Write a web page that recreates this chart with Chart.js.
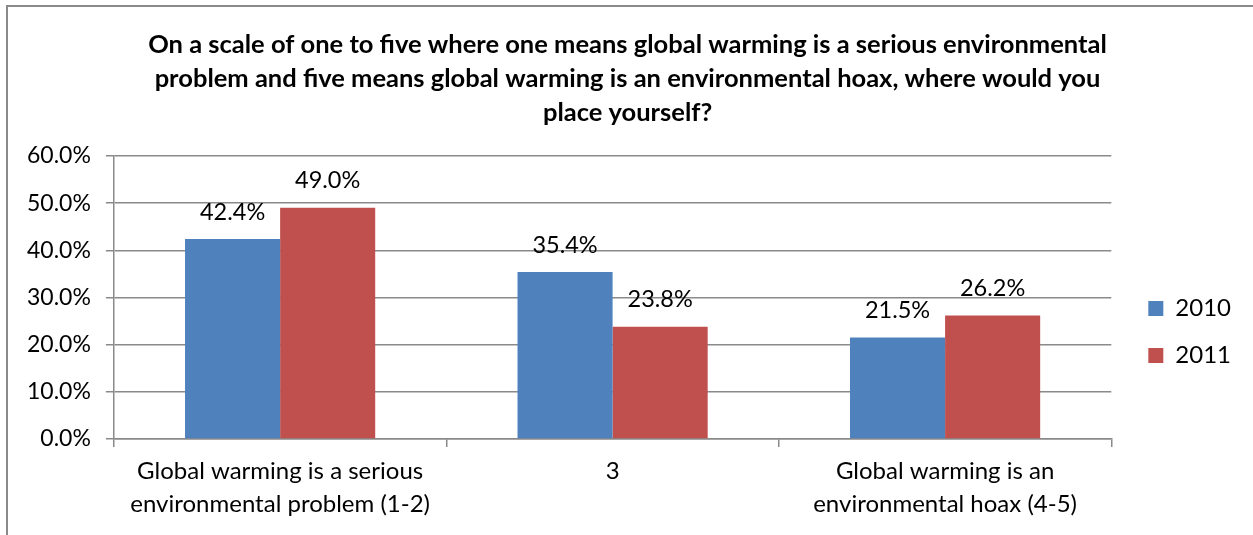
<!DOCTYPE html>
<html>
<head>
<meta charset="utf-8">
<script src="https://cdn.jsdelivr.net/npm/chart.js@4.4.1/dist/chart.umd.min.js"></script>
<style>
  html, body { margin: 0; padding: 0; background: #fff; overflow: hidden; }
  #frame {
    position: absolute; left: 6px; top: 5px; width: 1270px; height: 560px;
    border-top: 2px solid #8a8a8a; border-left: 2px solid #8a8a8a;
  }
  #wrap { position: absolute; left: 8px; top: 7px; width: 1245px; height: 528px; }
</style>
</head>
<body>
<div id="frame"></div>
<div id="wrap"><canvas id="surveyChart"></canvas></div>
<script>
const categories = [
    ['Global warming is a serious', 'environmental problem (1-2)'],
    '3',
    ['Global warming is an', 'environmental hoax (4-5)']
];
const values2010 = [42.4, 35.4, 21.5];
const values2011 = [49.0, 23.8, 26.2];
const titleLines = [
    'On a scale of one to five where one means global warming is a serious environmental',
    'problem and five means global warming is an environmental hoax, where would you',
    'place yourself?'
];

const FONT = "Lato, 'Open Sans', sans-serif";
const GRID = '#8a8a8a';

// value labels above each bar
const barLabels = {
    id: 'barLabels',
    afterDatasetsDraw(chart) {
        const { ctx } = chart;
        ctx.save();
        ctx.font = '23.5px ' + FONT;
        ctx.fillStyle = '#000';
        ctx.textAlign = 'center';
        ctx.textBaseline = 'middle';
        chart.data.datasets.forEach((ds, i) => {
            chart.getDatasetMeta(i).data.forEach((bar, j) => {
                ctx.fillText(ds.data[j].toFixed(1) + '%', bar.x, bar.y - 27);
            });
        });
        ctx.restore();
    }
};

// move legend lower/right and recentre the title on the whole canvas
const layoutShift = {
    id: 'layoutShift',
    afterLayout(chart) {
        chart.legend.top += 62;
        chart.legend.bottom += 62;
        chart.legend.left += 14;
        chart.legend.right += 14;
        chart.titleBlock.left += 8;
        chart.titleBlock.right += 8;
    }
};

const ctx = document.getElementById('surveyChart').getContext('2d');

new Chart(ctx, {
    type: 'bar',
    data: {
        labels: categories,
        datasets: [{
            label: '2010',
            data: values2010,
            backgroundColor: '#4f81bd'
        }, {
            label: '2011',
            data: values2011,
            backgroundColor: '#c0504d'
        }]
    },
    options: {
        responsive: true,
        maintainAspectRatio: false,
        animation: false,
        barPercentage: 1,
        categoryPercentage: 0.572,
        layout: {
            padding: { left: 4, right: 26, top: 4, bottom: 6 }
        },
        plugins: {
            title: {
                display: true,
                text: titleLines,
                color: '#000',
                font: { family: FONT, size: 25.5, weight: 'bold', lineHeight: 1.333 },
                padding: { top: 17, bottom: 26 }
            },
            legend: {
                position: 'right',
                labels: {
                    color: '#000',
                    boxWidth: 15,
                    boxHeight: 15,
                    padding: 23,
                    font: { family: FONT, size: 24 }
                }
            },
            tooltip: { enabled: false }
        },
        scales: {
            x: {
                grid: {
                    offset: true,
                    drawOnChartArea: false,
                    drawTicks: true,
                    tickLength: 8,
                    color: GRID,
                    lineWidth: 1.5
                },
                border: { color: GRID, width: 1.5 },
                ticks: {
                    color: '#000',
                    padding: 8,
                    font: { family: FONT, size: 24, lineHeight: 1.375 }
                }
            },
            y: {
                min: 0,
                max: 60,
                ticks: {
                    stepSize: 10,
                    color: '#000',
                    padding: 15,
                    font: { family: FONT, size: 23 },
                    callback: v => v.toFixed(1) + '%'
                },
                grid: { color: GRID, lineWidth: 1.5, tickLength: 8 },
                border: { color: GRID, width: 1.5 }
            }
        }
    },
    plugins: [barLabels, layoutShift]
});
</script>
</body>
</html>
